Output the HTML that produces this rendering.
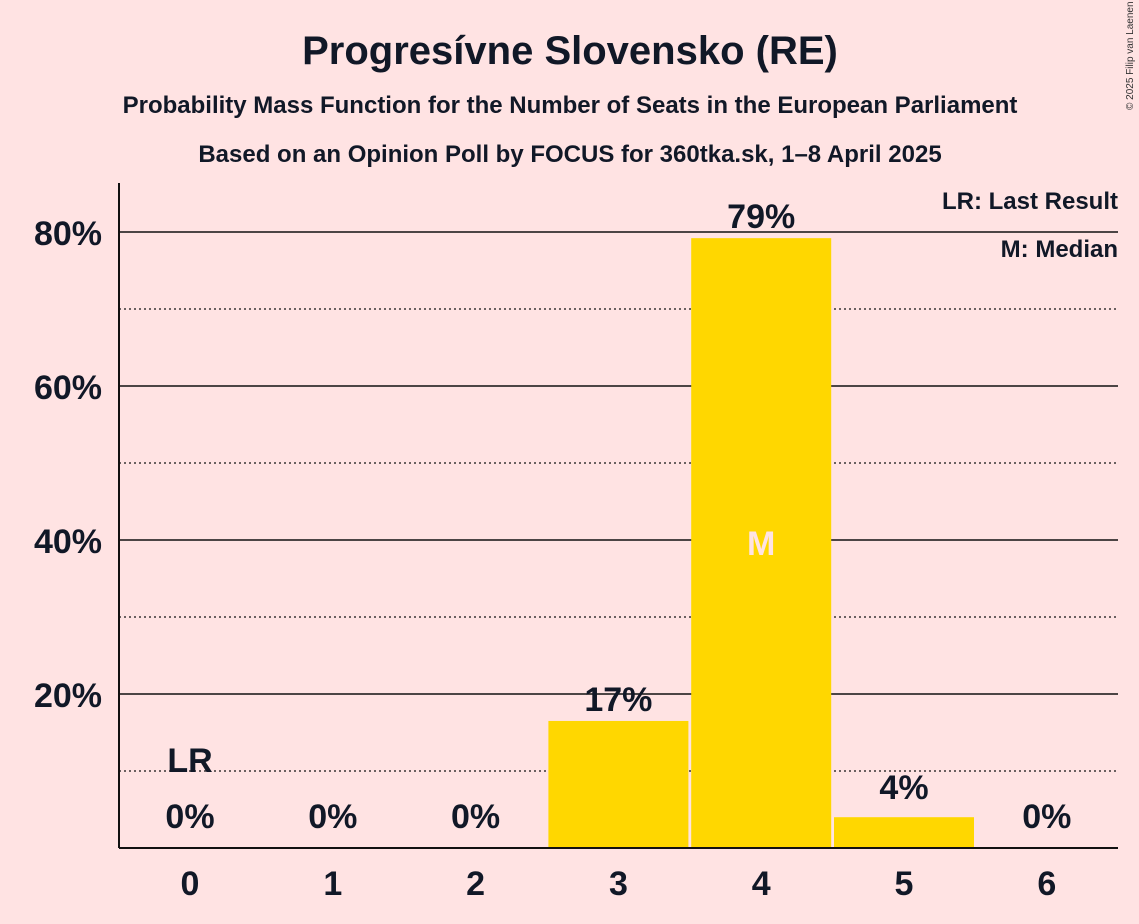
<!DOCTYPE html>
<html><head><meta charset="utf-8"><style>
body{margin:0;background:#ffe3e3;font-family:"Liberation Sans",sans-serif}
svg{display:block}
</style></head><body>
<svg width="1139" height="924" xmlns="http://www.w3.org/2000/svg">
<rect width="1139" height="924" fill="#ffe3e3"/>
<text x="570" y="64" text-anchor="middle" font-size="40" font-weight="bold" fill="#111827">Progresívne Slovensko (RE)</text>
<text x="570" y="113" text-anchor="middle" font-size="24" font-weight="bold" fill="#111827">Probability Mass Function for the Number of Seats in the European Parliament</text>
<text x="570" y="162" text-anchor="middle" font-size="24" font-weight="bold" fill="#111827">Based on an Opinion Poll by FOCUS for 360tka.sk, 1–8 April 2025</text>
<text x="1133" y="110" font-size="10" fill="#333" transform="rotate(-90 1133 110)">© 2025 Filip van Laenen</text>
<g id="grid"></g>
<g id="bars"></g>
<g id="labels"></g>
<line x1="119" y1="183" x2="119" y2="848" stroke="#111" stroke-width="2"/>
<line x1="119" y1="848" x2="1118" y2="848" stroke="#111" stroke-width="2"/>
<text x="1118" y="209" text-anchor="end" font-size="24" font-weight="bold" fill="#111827">LR: Last Result</text>
<text x="1118" y="257" text-anchor="end" font-size="24" font-weight="bold" fill="#111827">M: Median</text>
</svg>
<script>
const seats=[0,1,2,3,4,5,6];
const probs=[0,0,0,16.5,79.2,4.0,0];
const valueLabels=["0%","0%","0%","17%","79%","4%","0%"];
const yTicks=[20,40,60,80];
const yMinor=[10,30,50,70];
const lastResult=0, median=4;
const NS="http://www.w3.org/2000/svg";
const y=v=>848-v*7.7;
const x=i=>190+i*142.8;
function mk(tag,attrs,parent){const e=document.createElementNS(NS,tag);for(const k in attrs)e.setAttribute(k,attrs[k]);document.getElementById(parent).appendChild(e);return e;}
yMinor.forEach(t=>{const l=mk('line',{x1:119,x2:1118,y1:y(t),y2:y(t),stroke:'#111','stroke-width':1.3,'stroke-dasharray':'2,3'},'grid');

});
yTicks.forEach(t=>{const l=mk('line',{x1:119,x2:1118,y1:y(t),y2:y(t),stroke:'#111','stroke-width':1.5},'grid');


const tx=mk('text',{x:102,y:y(t)+13,'text-anchor':'end','font-size':34,'font-weight':'bold',fill:'#111827'},'grid');tx.textContent=t+'%';

});
seats.forEach((s,i)=>{
if(probs[i]>0){const r=mk('rect',{x:x(i)-70,y:y(probs[i]),width:140,height:848-y(probs[i]),fill:'#ffd700'},'bars');

}
const vl=mk('text',{x:x(i),y:(probs[i]>8?y(probs[i])-10:y(probs[i])-18)+ (probs[i]>0?0:0),'text-anchor':'middle','font-size':34,'font-weight':'bold',fill:'#111827'},'labels');
if(probs[i]===0)vl.setAttribute('y',828);
vl.textContent=valueLabels[i];


const xl=mk('text',{x:x(i),y:895,'text-anchor':'middle','font-size':34,'font-weight':'bold',fill:'#111827'},'labels');xl.textContent=s;


if(s===lastResult){const t=mk('text',{x:x(i),y:772,'text-anchor':'middle','font-size':34,'font-weight':'bold',fill:'#111827'},'labels');t.textContent='LR';

}
if(s===median){const t=mk('text',{x:x(i),y:y(probs[i]/2)+12,'text-anchor':'middle','font-size':34,'font-weight':'bold',fill:'#ffe3e3'},'labels');t.textContent='M';

}
});
</script>
</body></html>
